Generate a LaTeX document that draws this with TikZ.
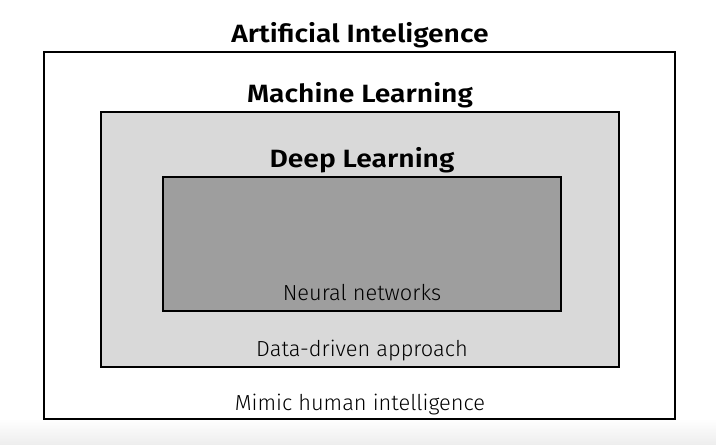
\documentclass[tikz,border=0pt]{standalone}
\usepackage{fontspec}
\setmainfont{Fira Sans}
\newfontfamily\headfont{Fira Sans SemiBold}[FakeStretch = 1.13]
\newfontfamily\thinfont{Fira Sans Light}

\begin{document}

\begin{tikzpicture}[x = 1pt, y = -1pt,
	layer/.style = {draw = black, line width = 1.8pt},
	heading/.style = {anchor = base, font = \headfont\fontsize{25}{30}\selectfont},
	caption/.style = {anchor = base, font = \thinfont\fontsize{21.8}{26}\selectfont}]

	\useasboundingbox (0, 0) rectangle (716, 445);
	\shade [top color = white, bottom color = black!7] (0, 419) rectangle (716, 445);

	% nested fields
	\draw [layer, fill = white] (44, 52) rectangle (675, 419);
	\draw [layer, fill = black!15] (101, 112) rectangle (619, 367);
	\draw [layer, fill = black!38] (163, 177) rectangle (561, 311);

	\node (ai) [heading] at (360, 42) {Artificial Inteligence};
	\node (ml) [heading] at (360, 102) {Machine Learning};
	\node (dl) [heading] at (362, 167) {Deep Learning};

	\node (nn) [caption] at (362, 300) {Neural networks};
	\node (data) [caption] at (362, 356) {Data-driven approach};
	\node (mimic) [caption] at (360, 410) {Mimic human intelligence};

\end{tikzpicture}

\end{document}
